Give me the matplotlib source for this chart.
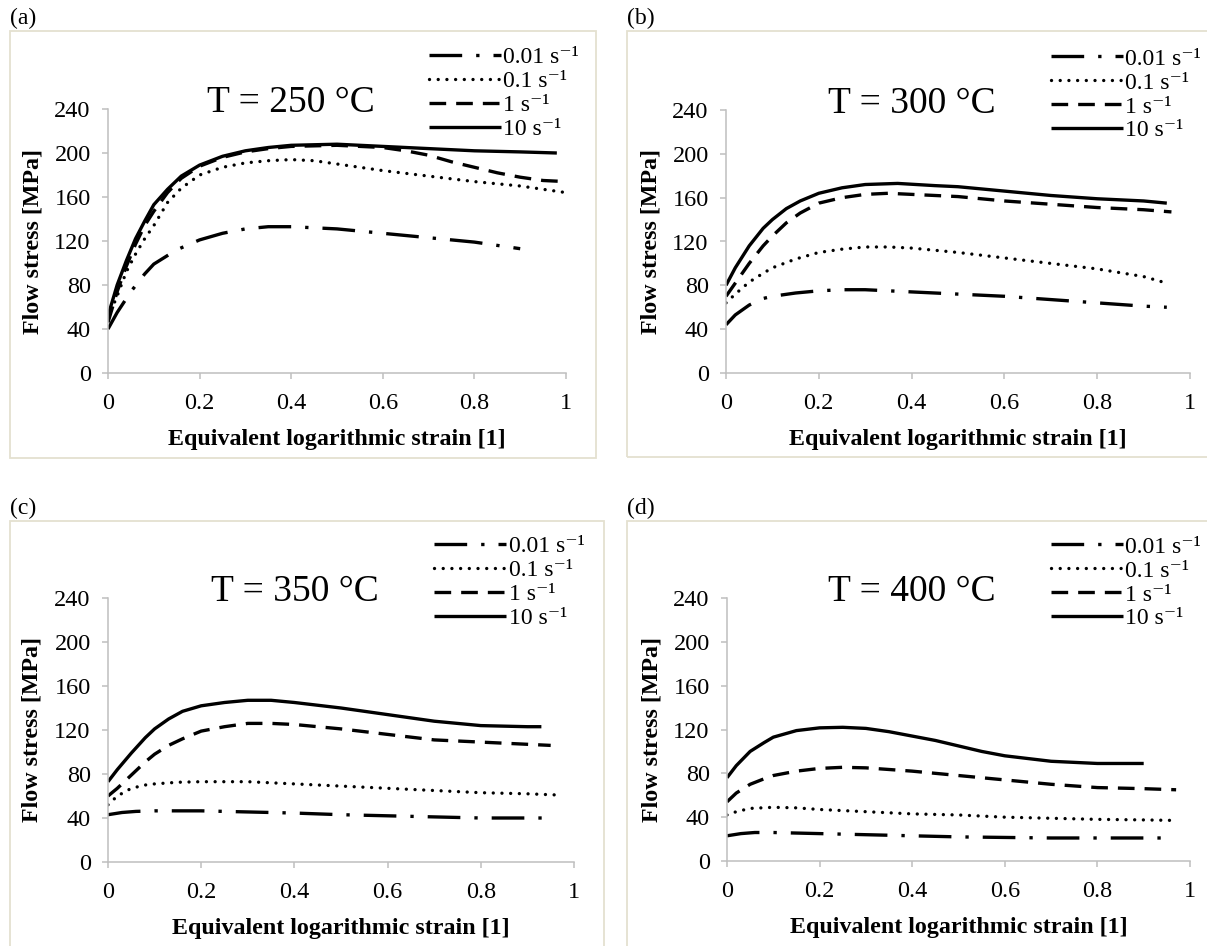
import matplotlib
matplotlib.use('Agg')
import matplotlib.pyplot as plt
from matplotlib.patches import Rectangle

plt.rcParams['font.family'] = ['Liberation Serif', 'DejaVu Serif']

W, H = 1207, 946

rate_labels = ['0.01 s\u207b\u00b9', '0.1 s\u207b\u00b9', '1 s\u207b\u00b9', '10 s\u207b\u00b9']
temperatures = [250, 300, 350, 400]
panel_tags = ['(a)', '(b)', '(c)', '(d)']
strain_ticks = [0, 0.2, 0.4, 0.6, 0.8, 1]
strain_ticklabels = ['0', '0.2', '0.4', '0.6', '0.8', '1']
stress_ticks = [0, 40, 80, 120, 160, 200, 240]

# ---- T = 250 C ----
eps_250_001 = [0, 0.02, 0.05, 0.08, 0.1, 0.15, 0.2, 0.25, 0.3, 0.35, 0.4, 0.5, 0.6, 0.7, 0.8, 0.9]
sig_250_001 = [40, 55, 74, 90, 99, 112, 121, 127, 131, 133, 133, 131, 127, 123, 119, 113]
eps_250_01 = [0, 0.02, 0.04, 0.06, 0.08, 0.1, 0.13, 0.16, 0.2, 0.25, 0.3, 0.35, 0.4, 0.45, 0.5, 0.6, 0.7, 0.8, 0.9, 1.0]
sig_250_01 = [50, 70, 92, 108, 122, 134, 155, 168, 180, 187, 191, 193, 194, 193, 190, 184, 179, 174, 170, 164]
eps_250_1 = [0, 0.02, 0.04, 0.06, 0.08, 0.1, 0.13, 0.16, 0.2, 0.25, 0.3, 0.35, 0.4, 0.5, 0.6, 0.65, 0.7, 0.75, 0.8, 0.85, 0.9, 0.95, 1.0]
sig_250_1 = [46, 74, 97, 117, 134, 147, 164, 177, 188, 196, 201, 204, 206, 207, 205, 202, 198, 192, 187, 182, 178, 175, 174]
eps_250_10 = [0, 0.02, 0.04, 0.06, 0.08, 0.1, 0.13, 0.16, 0.2, 0.25, 0.3, 0.35, 0.4, 0.5, 0.6, 0.7, 0.8, 0.9, 0.98]
sig_250_10 = [52, 80, 102, 122, 138, 153, 167, 179, 189, 197, 202, 205, 207, 208, 206, 204, 202, 201, 200]

# ---- T = 300 C ----
eps_300_001 = [0, 0.02, 0.05, 0.08, 0.1, 0.15, 0.2, 0.25, 0.3, 0.4, 0.5, 0.6, 0.7, 0.8, 0.9, 0.95]
sig_300_001 = [44, 53, 62, 68, 70, 73, 75, 76, 76, 74, 72, 70, 67, 64, 61, 60]
eps_300_01 = [0, 0.02, 0.05, 0.08, 0.1, 0.15, 0.2, 0.25, 0.3, 0.35, 0.4, 0.5, 0.6, 0.7, 0.8, 0.9, 0.95]
sig_300_01 = [64, 72, 83, 91, 96, 104, 110, 113, 115, 115, 114, 110, 105, 100, 95, 88, 82]
eps_300_1 = [0, 0.02, 0.05, 0.08, 0.1, 0.13, 0.16, 0.2, 0.25, 0.3, 0.35, 0.4, 0.5, 0.6, 0.7, 0.8, 0.9, 0.96]
sig_300_1 = [70, 82, 100, 116, 125, 137, 146, 155, 160, 163, 164, 163, 161, 157, 154, 151, 149, 147]
eps_300_10 = [0, 0.02, 0.05, 0.08, 0.1, 0.13, 0.16, 0.2, 0.25, 0.3, 0.37, 0.45, 0.5, 0.6, 0.7, 0.8, 0.9, 0.95]
sig_300_10 = [80, 96, 116, 132, 140, 150, 157, 164, 169, 172, 173, 171, 170, 166, 162, 159, 157, 155]

# ---- T = 350 C ----
eps_350_001 = [0, 0.03, 0.06, 0.1, 0.2, 0.3, 0.4, 0.5, 0.6, 0.7, 0.8, 0.9, 0.94]
sig_350_001 = [43, 45, 46, 46.5, 46.5, 45.5, 44.5, 43, 42, 41, 40, 40, 40]
eps_350_01 = [0, 0.02, 0.05, 0.08, 0.1, 0.15, 0.2, 0.3, 0.4, 0.5, 0.6, 0.7, 0.8, 0.9, 0.96]
sig_350_01 = [52, 60, 67, 70, 71, 72.5, 73, 73, 71, 69, 67, 65, 63, 62, 61]
eps_350_1 = [0, 0.02, 0.05, 0.08, 0.1, 0.13, 0.16, 0.2, 0.25, 0.3, 0.35, 0.4, 0.5, 0.6, 0.7, 0.8, 0.9, 0.95]
sig_350_1 = [60, 67, 79, 91, 98, 106, 112, 119, 123, 126, 126, 125, 121, 116, 111, 109, 107, 106]
eps_350_10 = [0, 0.02, 0.05, 0.08, 0.1, 0.13, 0.16, 0.2, 0.25, 0.3, 0.35, 0.4, 0.5, 0.6, 0.7, 0.8, 0.9, 0.93]
sig_350_10 = [73, 84, 99, 113, 121, 130, 137, 142, 145, 147, 147, 145, 140, 134, 128, 124, 123, 123]

# ---- T = 400 C ----
eps_400_001 = [0, 0.03, 0.06, 0.1, 0.2, 0.3, 0.4, 0.5, 0.6, 0.7, 0.8, 0.9, 0.95]
sig_400_001 = [23, 25, 26, 26, 25, 24, 23, 22, 21.5, 21, 21, 21, 21]
eps_400_01 = [0, 0.02, 0.05, 0.1, 0.15, 0.2, 0.3, 0.4, 0.5, 0.6, 0.7, 0.8, 0.9, 0.97]
sig_400_01 = [42, 45, 48, 49, 48.5, 47, 45, 43, 42, 40, 39, 38, 37.5, 37]
eps_400_1 = [0, 0.02, 0.05, 0.08, 0.1, 0.15, 0.2, 0.25, 0.3, 0.4, 0.5, 0.6, 0.7, 0.8, 0.9, 0.97]
sig_400_1 = [54, 62, 70, 75, 78, 82, 84.5, 85.5, 85, 82, 78, 74, 70, 67, 66, 65]
eps_400_10 = [0, 0.02, 0.05, 0.08, 0.1, 0.15, 0.2, 0.25, 0.3, 0.35, 0.4, 0.45, 0.5, 0.55, 0.6, 0.7, 0.8, 0.9]
sig_400_10 = [76, 87, 100, 108, 113, 119, 121.5, 122, 121, 118, 114, 110, 105, 100, 96, 91, 89, 89]

curves = {
    250: [(eps_250_001, sig_250_001), (eps_250_01, sig_250_01), (eps_250_1, sig_250_1), (eps_250_10, sig_250_10)],
    300: [(eps_300_001, sig_300_001), (eps_300_01, sig_300_01), (eps_300_1, sig_300_1), (eps_300_10, sig_300_10)],
    350: [(eps_350_001, sig_350_001), (eps_350_01, sig_350_01), (eps_350_1, sig_350_1), (eps_350_10, sig_350_10)],
    400: [(eps_400_001, sig_400_001), (eps_400_01, sig_400_01), (eps_400_1, sig_400_1), (eps_400_10, sig_400_10)],
}

# line look per strain rate: dash-dot, dotted, dashed, solid
line_kw = [
    dict(linestyle=(0, (9.8, 4.2, 1.0, 4.2)), dash_capstyle='butt'),
    dict(linestyle=(0, (0.01, 2.6)), dash_capstyle='round'),
    dict(linestyle=(0, (5, 3)), dash_capstyle='butt'),
    dict(linestyle='-', solid_capstyle='butt'),
]

# pixel boxes: axes (left, right, top, bottom), frame (left, right, top, bottom), tag (x, y)
axes_px = [(108, 566, 109, 373), (726, 1190, 110, 373), (108, 574, 598, 862), (727, 1190, 598, 861)]
frame_px = [(10, 596, 31, 458), (627, 1215, 31, 457), (10, 604, 521, 960), (627, 1215, 521, 960)]
tag_px = [(10, 18), (627, 18), (10, 508), (627, 508)]

fig = plt.figure(figsize=(W / 100, H / 100), dpi=100)

for i, T in enumerate(temperatures):
    fl, fr, ft, fb = frame_px[i]
    fig.add_artist(Rectangle((fl / W, 1 - fb / H), (fr - fl) / W, (fb - ft) / H,
                             transform=fig.transFigure, fill=False,
                             edgecolor='#e4e0d0', linewidth=1.3))
    fig.text(tag_px[i][0] / W, 1 - tag_px[i][1] / H, panel_tags[i],
             ha='left', va='center', fontsize=17)

    l, r, t, b = axes_px[i]
    ax = fig.add_axes([l / W, 1 - b / H, (r - l) / W, (b - t) / H])
    for (eps, sig), kw, lab in zip(curves[T], line_kw, rate_labels):
        ax.plot(eps, sig, color='black', linewidth=2.4, label=lab,
                solid_joinstyle='round', **kw)

    ax.set_xlim(0, 1)
    ax.set_ylim(0, 240)
    ax.set_xticks(strain_ticks)
    ax.set_xticklabels(strain_ticklabels)
    ax.set_yticks(stress_ticks)
    for s in ['top', 'right']:
        ax.spines[s].set_visible(False)
    for s in ['left', 'bottom']:
        ax.spines[s].set_color('#bfbfbf')
        ax.spines[s].set_linewidth(1.1)
    ax.tick_params(direction='out', length=4.5, width=1.1, color='#bfbfbf',
                   labelsize=17.5, pad=8)
    ax.tick_params(axis='x', pad=10)
    ax.patch.set_alpha(0)

    ax.set_xlabel('Equivalent logarithmic strain [1]', fontweight='bold', fontsize=17.3)
    ax.xaxis.set_label_coords(0.5, -0.212)
    ax.set_ylabel('Flow stress [MPa]', fontweight='bold', fontsize=17.3)
    ax.yaxis.set_label_coords(-0.14, 0.5)

    ax.text(0.40, 0.99, 'T = %d \u00b0C' % T, transform=ax.transAxes,
            ha='center', va='baseline', fontsize=27)

    ax.legend(loc='upper left', bbox_to_anchor=(0.70, 1.235), frameon=False,
              fontsize=17, handlelength=3.05, handletextpad=0.1,
              labelspacing=0.1, borderpad=0, borderaxespad=0)

fig.savefig('out.png', dpi=100)
